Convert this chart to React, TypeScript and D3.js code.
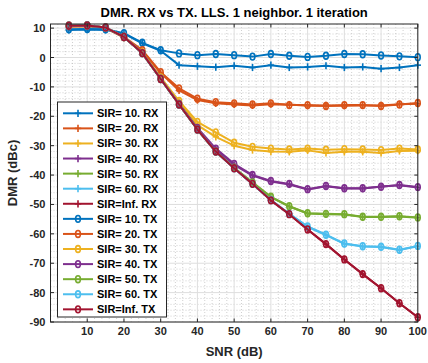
import React from "react";
import * as d3 from "d3";

const snr = [5, 10, 15, 20, 25, 30, 35, 40, 45, 50, 55, 60, 65, 70, 75, 80, 85, 90, 95, 100];

const rx10 = [9.4, 9.5, 9.4, 8.1, 4.8, 2.3, -2.6, -3.0, -3.3, -2.8, -3.4, -2.6, -3.4, -3.2, -2.8, -3.4, -3.2, -3.8, -3.4, -2.6];
const rx20 = [10.5, 10.6, 10.0, 6.8, 2.2, -5.3, -11.2, -14.5, -15.6, -16.0, -16.3, -15.9, -16.0, -16.4, -16.3, -16.4, -16.3, -16.3, -15.9, -15.7];
const rx30 = [10.6, 10.7, 10.1, 6.9, 1.6, -7.0, -15.3, -23.0, -27.0, -30.0, -31.5, -32.0, -32.1, -31.6, -32.5, -32.1, -32.1, -32.5, -31.8, -31.7];
const rx40 = [10.7, 10.8, 10.1, 7.0, 1.5, -7.2, -15.9, -24.3, -31.3, -36.5, -40.2, -42.2, -43.2, -44.9, -43.8, -44.6, -44.6, -43.9, -43.5, -44.2];
const rx50 = [10.7, 10.8, 10.2, 7.0, 1.5, -7.3, -16.0, -24.5, -32.0, -37.6, -42.6, -47.5, -50.7, -53.1, -53.3, -53.4, -54.3, -54.3, -54.1, -54.5];
const rx60 = [10.7, 10.8, 10.2, 7.0, 1.5, -7.3, -16.0, -24.5, -32.0, -37.7, -43.0, -48.5, -53.2, -57.6, -60.4, -63.4, -64.3, -64.5, -65.5, -64.2];
const rxInf = [10.8, 10.9, 10.2, 7.0, 1.5, -7.3, -16.0, -24.5, -32.0, -37.7, -43.0, -48.6, -53.3, -58.5, -63.5, -68.7, -73.7, -78.5, -83.6, -88.4];

const tx10 = [9.6, 9.7, 9.6, 8.3, 5.0, 2.5, 1.4, 0.8, 1.2, 0.8, 0.3, 1.2, 0.6, 0.2, 0.6, 1.2, 1.1, 0.7, 0.4, 0.1];
const tx20 = [10.8, 10.9, 10.2, 7.0, 2.5, -5.0, -10.5, -14.0, -15.2, -15.6, -16.0, -15.6, -16.2, -16.2, -16.5, -16.2, -16.2, -16.5, -16.0, -15.5];
const tx30 = [10.8, 10.9, 10.2, 7.0, 1.7, -6.8, -14.8, -21.9, -25.5, -29.0, -30.4, -31.0, -31.3, -31.0, -31.4, -31.2, -31.3, -31.5, -31.0, -31.3];
const tx40 = [10.8, 10.9, 10.2, 7.0, 1.5, -7.2, -15.8, -24.0, -31.0, -36.2, -40.0, -42.0, -43.0, -44.8, -43.7, -44.5, -44.5, -44.0, -43.4, -44.1];
const tx50 = [10.8, 10.9, 10.2, 7.0, 1.5, -7.3, -16.0, -24.5, -32.0, -37.5, -42.5, -47.4, -50.6, -53.0, -53.2, -53.3, -54.2, -54.2, -54.0, -54.4];
const tx60 = [10.8, 10.9, 10.2, 7.0, 1.5, -7.3, -16.0, -24.5, -32.0, -37.7, -43.0, -48.5, -53.2, -57.5, -60.3, -63.3, -64.2, -64.4, -65.4, -64.1];
const txInf = [10.8, 10.9, 10.2, 7.0, 1.5, -7.3, -16.0, -24.5, -32.0, -37.7, -43.0, -48.6, -53.3, -58.5, -63.5, -68.7, -73.7, -78.5, -83.6, -88.4];

const labels = [
  "SIR= 10. RX", "SIR= 20. RX", "SIR= 30. RX", "SIR= 40. RX", "SIR= 50. RX", "SIR= 60. RX", "SIR=Inf. RX",
  "SIR= 10. TX", "SIR= 20. TX", "SIR= 30. TX", "SIR= 40. TX", "SIR= 50. TX", "SIR= 60. TX", "SIR=Inf. TX",
];
const palette = ["#0072BD", "#D95319", "#EDB120", "#7E2F8E", "#77AC30", "#4DBEEE", "#A2142F"];
const xTicks = [10, 20, 30, 40, 50, 60, 70, 80, 90, 100];
const yTicks = [10, 0, -10, -20, -30, -40, -50, -60, -70, -80, -90];

const seriesData = [rx10, rx20, rx30, rx40, rx50, rx60, rxInf, tx10, tx20, tx30, tx40, tx50, tx60, txInf];

const W = 428, H = 363;
const L = 50.5, R = 417.8, T = 24, B = 322;
const FONT = "'Liberation Sans', Arial, Helvetica, sans-serif";

function Marker({ kind, x, y, color }: { kind: string; x: number; y: number; color: string }) {
  if (kind === "+") {
    return (
      <g stroke={color} strokeWidth={1.6}>
        <line x1={x - 3.2} x2={x + 3.2} y1={y} y2={y} />
        <line x1={x} x2={x} y1={y - 3.6} y2={y + 3.6} />
      </g>
    );
  }
  return <ellipse cx={x} cy={y} rx={2.4} ry={3.4} fill="none" stroke={color} strokeWidth={1.6} />;
}

export default function App() {
  const x = d3.scaleLinear().domain([0, 100]).range([L, R]);
  const y = d3.scaleLinear().domain([-90, 11.4]).range([B, T]);
  const line = d3.line<[number, number]>().x((d) => x(d[0])).y((d) => y(d[1]));

  const minorX = d3.range(2, 100, 2).filter((v) => v % 10 !== 0);
  const minorY = d3.range(-88, 11.4, 2).filter((v) => v % 10 !== 0);

  const legX = 57.5, legY = 102, legW = 109, legH = 215;
  const legRowH = 15.08;
  const legFirst = 113.3;

  return (
    <svg width={W} height={H} style={{ position: "absolute", left: 0, top: 0, background: "#fff" }} fontFamily={FONT}>
      <rect x={L} y={T} width={R - L} height={B - T} fill="#fff" />
      {/* minor grid */}
      {minorX.map((v) => (
        <line key={"mx" + v} x1={x(v)} x2={x(v)} y1={T} y2={B} stroke="#b0b0b0" strokeWidth={0.6} strokeDasharray="1,2" />
      ))}
      {minorY.map((v) => (
        <line key={"my" + v} x1={L} x2={R} y1={y(v)} y2={y(v)} stroke="#b0b0b0" strokeWidth={0.6} strokeDasharray="1,2" />
      ))}
      {/* major grid */}
      {xTicks.map((v) => (
        <line key={"gx" + v} x1={x(v)} x2={x(v)} y1={T} y2={B} stroke="#dedede" strokeWidth={1} />
      ))}
      {yTicks.map((v) => (
        <line key={"gy" + v} x1={L} x2={R} y1={y(v)} y2={y(v)} stroke="#dedede" strokeWidth={1} />
      ))}

      {/* series */}
      {seriesData.map((vals, i) => {
        const color = palette[i % 7];
        const kind = i < 7 ? "+" : "o";
        const pts: [number, number][] = snr.map((s, j) => [s, vals[j]]);
        return (
          <g key={"s" + i}>
            <path d={line(pts) || ""} fill="none" stroke={color} strokeWidth={2} strokeLinejoin="round" />
            {pts.map((p, j) => (
              <Marker key={j} kind={kind} x={x(p[0])} y={y(p[1])} color={color} />
            ))}
          </g>
        );
      })}

      {/* axes box */}
      <rect x={L} y={T} width={R - L} height={B - T} fill="none" stroke="#262626" strokeWidth={1} />
      {xTicks.map((v) => (
        <g key={"tx" + v} stroke="#262626">
          <line x1={x(v)} x2={x(v)} y1={B} y2={B - 3.5} />
          <line x1={x(v)} x2={x(v)} y1={T} y2={T + 3.5} />
        </g>
      ))}
      {yTicks.map((v) => (
        <g key={"ty" + v} stroke="#262626">
          <line x1={L} x2={L + 3.5} y1={y(v)} y2={y(v)} />
          <line x1={R} x2={R - 3.5} y1={y(v)} y2={y(v)} />
        </g>
      ))}
      {xTicks.map((v) => (
        <text key={"lx" + v} x={x(v)} y={B + 13} textAnchor="middle" fontSize={11} fontWeight="bold" fill="#262626">
          {v}
        </text>
      ))}
      {yTicks.map((v) => (
        <text key={"ly" + v} x={L - 5} y={y(v) + 4} textAnchor="end" fontSize={11} fontWeight="bold" fill="#262626">
          {v}
        </text>
      ))}
      <text x={(L + R) / 2} y={356} textAnchor="middle" fontSize={13} fontWeight="bold" fill="#262626">
        SNR (dB)
      </text>
      <text
        transform={`translate(${17},${(T + B) / 2}) rotate(-90)`}
        textAnchor="middle"
        fontSize={13}
        fontWeight="bold"
        fill="#262626"
      >
        DMR (dBc)
      </text>
      <text x={(L + R) / 2} y={17} textAnchor="middle" fontSize={13} fontWeight="bold" fill="#000">
        DMR. RX vs TX. LLS. 1 neighbor. 1 iteration
      </text>

      {/* legend */}
      <rect x={legX} y={legY} width={legW} height={legH} fill="#fff" stroke="#262626" strokeWidth={1} />
      {labels.map((lab, i) => {
        const cy = legFirst + i * legRowH;
        const color = palette[i % 7];
        return (
          <g key={"lg" + i}>
            <line x1={63} x2={93} y1={cy} y2={cy} stroke={color} strokeWidth={2} />
            <Marker kind={i < 7 ? "+" : "o"} x={78} y={cy} color={color} />
            <text x={97} y={cy + 4} fontSize={11} fontWeight="bold" fill="#000">
              {lab}
            </text>
          </g>
        );
      })}
    </svg>
  );
}
